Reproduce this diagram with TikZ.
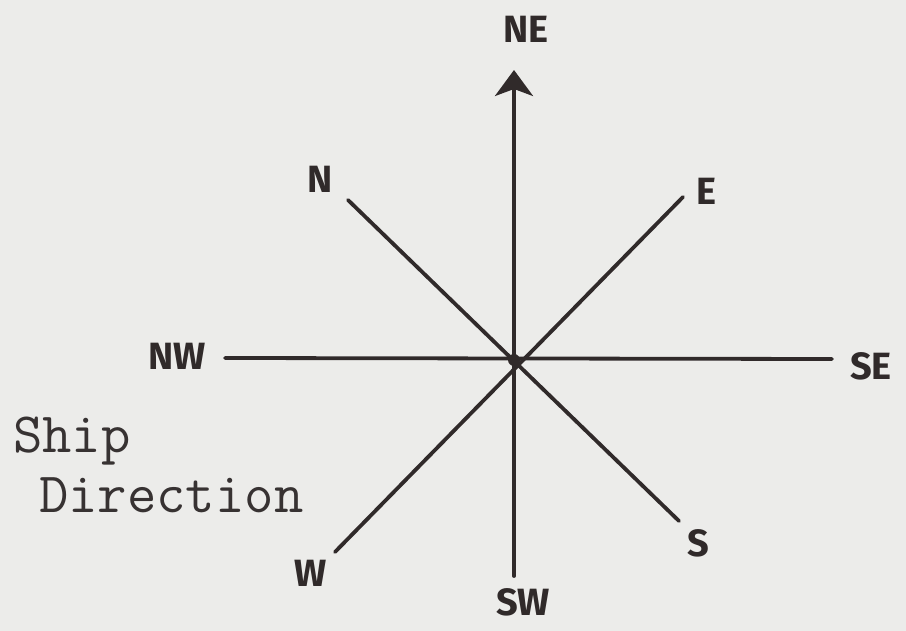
\documentclass[tikz,border=0pt]{standalone}
\usepackage{fontspec}
\usetikzlibrary{arrows.meta}
\newfontfamily\hand{Fira Sans}
\definecolor{paper}{RGB}{236,236,234}
\definecolor{ink}{RGB}{48,42,42}
\definecolor{typeink}{RGB}{55,50,50}
\begin{document}
\begin{tikzpicture}[x=1pt,y=-1pt,
  axis/.style={draw=ink,line width=3.8pt,line cap=round},
  lbl/.style={text=ink,font=\hand\bfseries\fontsize{38}{38}\selectfont,inner sep=0pt,anchor=center},
  typed/.style={text=typeink,font=\ttfamily\fontsize{57}{60}\selectfont,inner sep=0pt,anchor=base west}]
\fill[paper] (0,0) rectangle (906,631);
\useasboundingbox (0,0) rectangle (906,631);
% line end points
\coordinate (O) at (514,360);
\coordinate (pNE) at (514,70);
\coordinate (pSW) at (514,576);
\coordinate (pNW) at (225,358);
\coordinate (pSE) at (832,359);
\coordinate (pN) at (348,200);
\coordinate (pS) at (679,521);
\coordinate (pE) at (683,197);
\coordinate (pW) at (335,552);
% labels
\node[lbl] (lNE) at (526,29) {NE};
\node[lbl] (lN) at (320,179) {N};
\node[lbl] (lE) at (706,191) {E};
\node[lbl] (lNW) at (177,356) {NW};
\node[lbl] (lSE) at (871,366) {SE};
\node[lbl] (lS) at (698,543) {S};
\node[lbl] (lW) at (311,573) {W};
\node[lbl] (lSW) at (523,602) {SW};
\node[typed] (ship) at (13,452) {Ship};
\node[typed] (dir) at (39,512) {Direction};
% axes
\draw[axis,-{Stealth[length=26pt,width=38pt,inset=7pt]}] (pSW) -- (pNE);
\draw[axis] (pNW) -- (pSE);
\draw[axis] (pN) -- (pS);
\draw[axis] (pW) -- (pE);
\fill[ink] (O) circle (6pt);
\end{tikzpicture}
\end{document}
